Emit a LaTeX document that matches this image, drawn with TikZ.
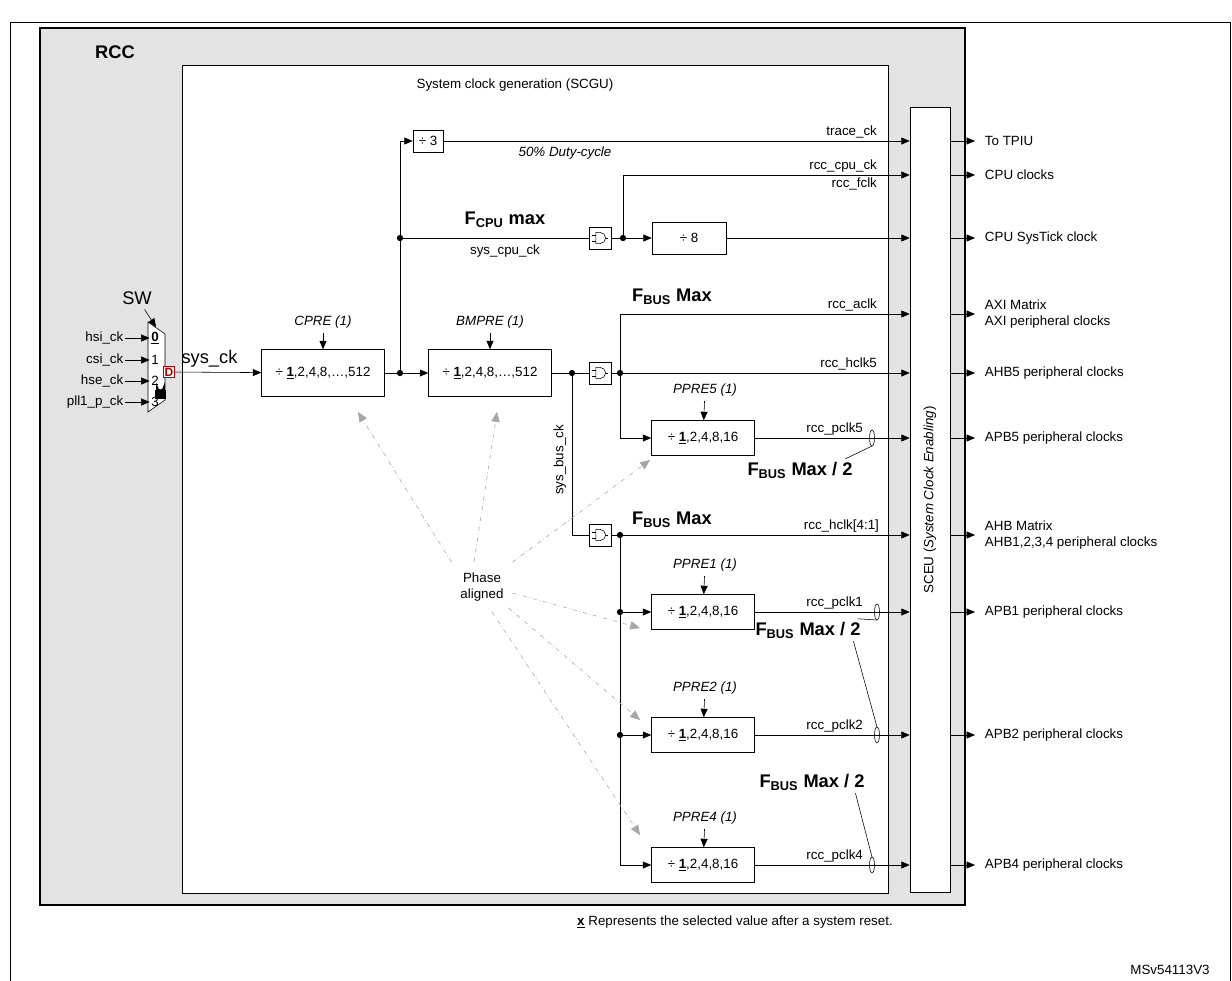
\documentclass[tikz,border=0pt]{standalone}
\usepackage{fontspec}
\setmainfont{Liberation Sans}
\usetikzlibrary{arrows.meta, positioning, calc}

\begin{document}
\begin{tikzpicture}[x=0.025cm, y=-0.025cm,
  >={Triangle[length=6pt, width=5pt]},
  every node/.style={font=\fontsize{9.5}{11}\selectfont},
  div box/.style={draw, fill=white, minimum width=103*0.025cm, minimum height=35*0.025cm, inner sep=0pt},
  gate box/.style={draw, fill=white, minimum size=0.55cm, inner sep=0pt},
  dot/.style={circle, fill, inner sep=0pt, minimum size=4.5pt},
  big label/.style={font=\fontsize{13}{15}\selectfont\bfseries},
  prescaler/.style={font=\fontsize{9.5}{11}\selectfont\itshape},
  phase/.style={-{Triangle[length=7pt, width=6pt]}, gray!70, dash dot},
  out label/.style={anchor=west, align=left},
  sig label/.style={anchor=south east, inner sep=2pt}
]
  \useasboundingbox (0,0) rectangle (1232,981);
  \draw (10,22) -- (1230,22) (10,22) -- (10,981) (1230,22) -- (1230,981);

  % RCC block
  \draw[very thick, fill=gray!22] (40,28) rectangle (965,905);
  \node[font=\fontsize{13}{15}\selectfont\bfseries] (rcc) at (115,52) {RCC};
  \draw[fill=white] (182,65) rectangle (888,893);
  \node (scgu) at (515,85) {System clock generation (SCGU)};
  \node[draw, fill=white, minimum width=40*0.025cm, minimum height=785*0.025cm] (sceu) at (930,500) {};
  \node[rotate=90] at (sceu) {SCEU (\textit{System Clock Enabling})};

  % clock switch
  \draw[fill=white] (148,322) -- (165,334) -- (165,400) -- (148,412) -- cycle;
  \coordinate (mux top) at (156,327);
  \node[font=\fontsize{13}{15}\selectfont] (sw) at (137,298) {SW};
  \draw[->] (sw) -- (mux top);
  \foreach \i/\name/\y in {0/hsi\_ck/338, 1/csi\_ck/360, 2/hse\_ck/381, 3/pll1\_p\_ck/402} {
    \node[inner sep=1pt] (in\i) at (155,\y) {\ifnum\i=0 \underline{\textbf{0}}\else\i\fi};
    \node[anchor=east, inner sep=1pt] (src\i) at (125,\y) {\name};
    \draw[->] (src\i) -- (in\i);
  }
  \node[draw=red!70!black, text=red!70!black, font=\fontsize{8.5}{9}\selectfont\bfseries, fill=white, inner sep=1pt] (dflt) at (169,372) {D};
  % lock
  \draw[line width=1.3pt] (157,391) -- (157,387) arc[start angle=180, end angle=0, radius=3.5] -- (164,391);
  \fill (155,390) rectangle (166,399);

  % system prescaler
  \node[div box, minimum width=123*0.025cm, minimum height=47*0.025cm] (cpre) at (323,373) {÷ \underline{\textbf{1}},2,4,8,…,512};
  \node[prescaler] (cpre lbl) at (323,322) {CPRE (1)};
  \draw[->] (cpre lbl) -- (cpre);
  \draw[->] (dflt) -- node[above, font=\fontsize{13}{15}\selectfont, pos=0.4] {sys\_ck} (cpre);
  \node[dot] (d1) at (400,373) {};
  \node[div box, minimum width=123*0.025cm, minimum height=47*0.025cm] (bmpre) at (490,373) {÷ \underline{\textbf{1}},2,4,8,…,512};
  \node[prescaler] (bmpre lbl) at (490,322) {BMPRE (1)};
  \draw[->] (bmpre lbl) -- (bmpre);
  \draw (cpre) -- (d1);
  \draw[->] (d1) -- (bmpre);

  % CPU branch
  \node[draw, fill=white, minimum width=30*0.025cm, minimum height=22*0.025cm, inner sep=0pt] (div3) at (428,141) {÷ 3};
  \node[dot] (d2) at (400,238) {};
  \draw[->] (d1) |- (div3);
  \draw[->] (div3) -- (div3 -| sceu.west);
  \node[sig label] at (880,141) {trace\_ck};
  \node[font=\fontsize{9.5}{11}\selectfont\itshape] at (565,153) {50\% Duty-cycle};
  \node[gate box] (g1) at (600,238) {};
  \draw (d2) -- (g1);
  \node[big label] at (505,220) {F\textsubscript{CPU} max};
  \node at (505,251) {sys\_cpu\_ck};
  \node[dot] (d3) at (623,238) {};
  \node[draw, fill=white, minimum width=74*0.025cm, minimum height=32*0.025cm, inner sep=0pt] (div8) at (689,238) {÷ 8};
  \draw (g1) -- (d3);
  \draw[->] (d3) -- (div8);
  \coordinate (cpu top) at (623,175);
  \draw[->] (d3) -- (cpu top) -- (cpu top -| sceu.west);
  \node[sig label] at (880,175) {rcc\_cpu\_ck};
  \node[anchor=north east, inner sep=2pt] at (880,175) {rcc\_fclk};
  \draw[->] (div8) -- (div8 -| sceu.west);

  % bus matrix branch
  \node[dot] (d4) at (572,373) {};
  \node[gate box] (g2) at (600,373) {};
  \node[dot] (d5) at (620,373) {};
  \draw (bmpre) -- (d4) -- (g2) -- (d5);
  \draw[->] (d5) -- (d5 -| sceu.west);
  \node[sig label] at (880,373) {rcc\_hclk5};
  \coordinate (aclk) at (620,314);
  \draw[->] (d5) -- (aclk) -- (aclk -| sceu.west);
  \node[sig label] at (880,314) {rcc\_aclk};
  \node[big label] at (672,297) {F\textsubscript{BUS} Max};
  \node[div box] (ppre5) at (703,438) {÷ \underline{\textbf{1}},2,4,8,16};
  \node[prescaler] (ppre5 lbl) at (705,390) {PPRE5 (1)};
  \draw[->] (ppre5 lbl) -- (ppre5);
  \draw[->] (d5) |- (ppre5);
  \draw[->] (ppre5) -- (ppre5 -| sceu.west);
  \node[sig label] at (866,438) {rcc\_pclk5};

  \node[gate box] (g3) at (600,535) {};
  \draw (d4) |- (g3);
  \node[rotate=90] at (560,460) {sys\_bus\_ck};
  \node[dot] (d6) at (620,535) {};
  \draw (g3) -- (d6);
  \draw[->] (d6) -- (d6 -| sceu.west);
  \node[sig label] at (882,535) {rcc\_hclk[4:1]};
  \node[big label] at (672,520) {F\textsubscript{BUS} Max};

  % and gates
  \foreach \g in {g1, g2, g3} {
    \begin{scope}[shift={(\g)}, x=1pt, y=1pt]
      \draw (-3,4) -- (0,4) arc[start angle=90, end angle=-90, radius=4] -- (-3,-4) -- cycle;
      \draw (-6,2) -- (-3,2) (-6,-2) -- (-3,-2) (4,0) -- (6,0);
    \end{scope}
  }

  % APB prescalers
  \foreach \n/\y in {1/612, 2/735, 4/865} {
    \node[div box] (ppre\n) at (703,\y) {÷ \underline{\textbf{1}},2,4,8,16};
    \node[prescaler] (ppre\n lbl) at (705,\y-47) {PPRE\n\ (1)};
    \draw[->] (ppre\n lbl) -- (ppre\n);
    \draw[->] (ppre\n) -- (ppre\n -| sceu.west);
    \node[sig label] at (866,\y) {rcc\_pclk\n};
  }
  \node[dot] (d7) at (620,612) {};
  \node[dot] (d8) at (620,735) {};
  \draw (d6) -- (d7) -- (d8);
  \draw[->] (d7) -- (ppre1);
  \draw[->] (d8) -- (ppre2);
  \draw[->] (d8) |- (ppre4);

  % bus width marks
  \foreach \y/\x in {438/872, 612/877, 735/877, 865/872}
    \draw (\x,\y) ellipse (2.5 and 8);
  \node[big label] (half5) at (800,470) {F\textsubscript{BUS} Max / 2};
  \node[big label] (half12) at (808,630) {F\textsubscript{BUS} Max / 2};
  \node[big label] (half4) at (812,782) {F\textsubscript{BUS} Max / 2};
  \draw (half5.north east) ++(-12,2) -- (872,446);
  \draw (half12.north east) ++(-8,2) -- (877,620);
  \draw (half12.south east) ++(-12,-2) -- (877,727);
  \draw (half4.south east) ++(-14,-2) -- (872,857);

  % phase alignment
  \node[align=center] (phase) at (482,587) {Phase\\aligned};
  \draw[phase] (phase.north west) ++(-4,-6) -- (358,412);
  \draw[phase] (phase.north) ++(-8,-6) -- (497,412);
  \draw[phase] (phase.north east) ++(4,-6) -- (650,460);
  \draw[phase] (phase.east) ++(4,6) -- (640,628);
  \draw[phase] (phase.south east) ++(0,2) -- (640,720);
  \draw[phase] (phase.south) ++(10,6) -- (640,835);

  % outputs
  \foreach \y/\txt in {141/To TPIU, 175/CPU clocks, 238/CPU SysTick clock,
      314/AXI Matrix\\AXI peripheral clocks, 373/AHB5 peripheral clocks,
      438/APB5 peripheral clocks, 535/AHB Matrix\\AHB1{,}2{,}3{,}4 peripheral clocks,
      612/APB1 peripheral clocks, 735/APB2 peripheral clocks, 865/APB4 peripheral clocks} {
    \coordinate (o) at (950,\y);
    \node[out label] (out\y) at (980,\y) {\txt};
    \draw[->] (o) -- (975,\y);
  }

  \node (note) at (735,922) {\underline{\textbf{x}} Represents the selected value after a system reset.};
  \node (ref) at (1170,970) {MSv54113V3};
\end{tikzpicture}
\end{document}
